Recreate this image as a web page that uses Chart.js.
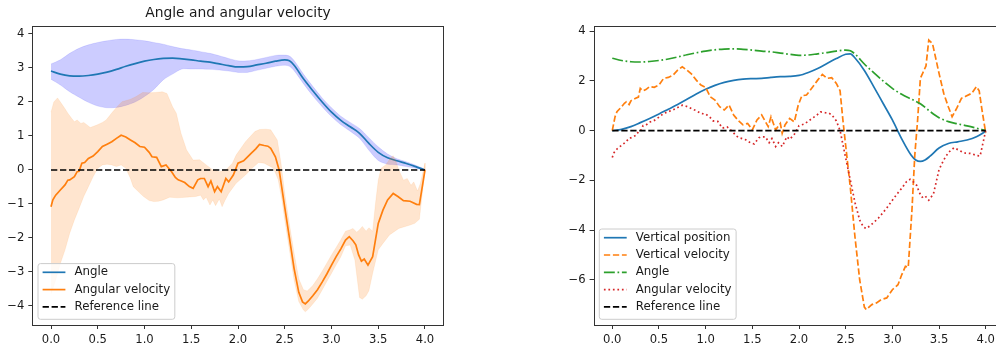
<!DOCTYPE html>
<html>
<head>
<meta charset="utf-8">
<script src="https://cdn.jsdelivr.net/npm/chart.js@4.4.1/dist/chart.umd.min.js"></script>
<style>
  html, body { margin: 0; padding: 0; background: #fff; overflow: hidden; width: 996px; height: 347px; }
  canvas { position: absolute; top: 0; }
  #left { left: 0; }
  #right { left: 540px; }
</style>
</head>
<body>
<canvas id="left" width="460" height="347"></canvas>
<canvas id="right" width="470" height="347"></canvas>
<script>
// ---- time axis and tick labels ----
const X_TICKS = [0, 0.5, 1, 1.5, 2, 2.5, 3, 3.5, 4];
const Y_TICKS_LEFT = [-4, -3, -2, -1, 0, 1, 2, 3, 4];
const Y_TICKS_RIGHT = [-6, -4, -2, 0, 2, 4];

// ---- angle (mean and spread) ----
const T_ANGLE = [0, 0.1, 0.2, 0.3, 0.4, 0.5, 0.6, 0.7, 0.8, 0.9, 1.0, 1.1, 1.2, 1.3, 1.4, 1.5, 1.6, 1.7, 1.8, 1.9,
  2.0, 2.1, 2.2, 2.3, 2.4, 2.5, 2.55, 2.6, 2.7, 2.8, 2.9, 3.0, 3.1, 3.2, 3.3, 3.4, 3.5, 3.6, 3.7, 3.8, 3.9, 4.0];
const ANGLE = [2.91, 2.82, 2.77, 2.76, 2.78, 2.82, 2.88, 2.96, 3.05, 3.13, 3.20, 3.25, 3.28, 3.29, 3.27, 3.24, 3.20, 3.17, 3.12, 3.07,
  3.03, 3.04, 3.09, 3.14, 3.20, 3.24, 3.21, 3.08, 2.68, 2.33, 2.00, 1.70, 1.46, 1.27, 1.08, 0.78, 0.52, 0.36, 0.27, 0.19, 0.10, 0.0];
const ANGLE_HI = [3.12, 3.24, 3.43, 3.58, 3.68, 3.75, 3.80, 3.84, 3.85, 3.83, 3.80, 3.75, 3.70, 3.63, 3.57, 3.53, 3.48, 3.43, 3.36, 3.28,
  3.21, 3.21, 3.25, 3.31, 3.37, 3.38, 3.35, 3.22, 2.82, 2.46, 2.12, 1.83, 1.58, 1.40, 1.22, 0.95, 0.68, 0.47, 0.33, 0.24, 0.14, 0.02];
const ANGLE_LO = [2.67, 2.50, 2.30, 2.14, 1.99, 1.88, 1.83, 1.84, 1.90, 2.00, 2.16, 2.37, 2.65, 2.82, 2.97, 2.97, 2.97, 2.96, 2.94, 2.91,
  2.87, 2.87, 2.93, 2.99, 3.05, 3.08, 3.05, 2.92, 2.54, 2.18, 1.86, 1.57, 1.33, 1.14, 0.93, 0.58, 0.28, 0.17, 0.15, 0.10, 0.05, 0.0];

// ---- angular velocity (mean) ----
const T_ANGVEL = [0.00, 0.02, 0.05, 0.10, 0.15, 0.18, 0.20, 0.25, 0.28, 0.30, 0.33, 0.36, 0.40, 0.45, 0.50, 0.55, 0.60, 0.65, 0.70, 0.75,
  0.80, 0.85, 0.90, 0.95, 1.00, 1.05, 1.08, 1.13, 1.18, 1.23, 1.29, 1.33, 1.36, 1.40, 1.43, 1.48, 1.52, 1.57, 1.60, 1.64,
  1.68, 1.71, 1.75, 1.78, 1.82, 1.87, 1.90, 1.95, 2.00, 2.06, 2.10, 2.14, 2.19, 2.23, 2.28, 2.32, 2.35, 2.40, 2.44, 2.50,
  2.55, 2.60, 2.65, 2.69, 2.72, 2.75, 2.80, 2.85, 2.90, 2.95, 3.00, 3.05, 3.10, 3.15, 3.19, 3.23, 3.26, 3.29, 3.32, 3.35,
  3.39, 3.44, 3.50, 3.55, 3.60, 3.66, 3.71, 3.77, 3.84, 3.91, 3.94, 4.00];
const ANGVEL = [-1.08, -0.88, -0.74, -0.59, -0.44, -0.30, -0.29, -0.20, -0.05, -0.04, 0.20, 0.22, 0.34, 0.41, 0.54, 0.69, 0.76, 0.83, 0.93, 1.02,
  0.97, 0.88, 0.80, 0.69, 0.67, 0.52, 0.39, 0.37, 0.10, 0.15, -0.05, -0.22, -0.29, -0.33, -0.37, -0.49, -0.54, -0.29, -0.25, -0.25,
  -0.49, -0.32, -0.64, -0.49, -0.64, -0.25, -0.35, -0.15, 0.20, 0.27, 0.38, 0.49, 0.62, 0.75, 0.72, 0.70, 0.64, 0.39, 0.00, -1.10,
  -2.00, -2.90, -3.60, -3.88, -3.94, -3.86, -3.70, -3.52, -3.30, -3.06, -2.80, -2.55, -2.32, -2.06, -1.96, -2.08, -2.20, -2.50, -2.68, -2.62,
  -2.80, -2.55, -1.57, -1.18, -0.88, -0.69, -0.78, -0.90, -0.92, -1.01, -1.02, 0.00];

// ---- angular velocity spread: upper edge ----
const T_ANGVEL_HI = [0.00, 0.03, 0.07, 0.11, 0.15, 0.18, 0.22, 0.25, 0.28, 0.32, 0.35, 0.42, 0.49, 0.55, 0.59, 0.66, 0.72, 0.76, 0.85, 0.91,
  0.98, 1.05, 1.12, 1.19, 1.24, 1.30, 1.34, 1.39, 1.45, 1.52, 1.59, 1.66, 1.73, 1.80, 1.87, 1.94, 1.98, 2.08, 2.18, 2.23,
  2.30, 2.35, 2.42, 2.46, 2.50, 2.55, 2.60, 2.65, 2.70, 2.74, 2.80, 2.85, 2.90, 2.95, 3.00, 3.05, 3.10, 3.15, 3.20, 3.23,
  3.27, 3.30, 3.33, 3.37, 3.40, 3.44, 3.47, 3.50, 3.53, 3.58, 3.63, 3.66, 3.69, 3.72, 3.77, 3.81, 3.85, 3.88, 3.92, 3.95, 4.00];
const ANGVEL_HI = [1.70, 2.00, 2.12, 1.96, 1.80, 1.67, 1.52, 1.42, 1.47, 1.37, 1.40, 1.25, 1.32, 1.40, 1.47, 1.71, 1.90, 2.01, 2.08, 2.16,
  2.28, 2.27, 2.28, 2.30, 2.25, 1.86, 1.67, 1.08, 0.59, 0.29, 0.30, 0.15, 0.00, -0.05, 0.00, 0.20, 0.44, 0.83, 1.13, 1.19,
  1.20, 1.18, 0.88, 0.20, -0.70, -1.60, -2.45, -3.20, -3.52, -3.56, -3.40, -3.20, -2.98, -2.74, -2.50, -2.28, -2.05, -1.80, -1.76, -1.72,
  -1.83, -1.76, -1.66, -1.80, -1.70, -1.80, -1.00, -0.30, 0.05, 0.15, 0.35, 0.42, 0.25, 0.00, -0.30, -0.25, -0.45, -0.35, -0.62, -0.40, 0.20];

// ---- angular velocity spread: lower edge ----
const T_ANGVEL_LO = [0.00, 0.05, 0.10, 0.15, 0.20, 0.25, 0.30, 0.35, 0.40, 0.45, 0.50, 0.55, 0.60, 0.65, 0.70, 0.75, 0.80, 0.85, 0.88, 0.95,
  0.99, 1.05, 1.10, 1.15, 1.20, 1.27, 1.35, 1.45, 1.55, 1.60, 1.63, 1.66, 1.70, 1.73, 1.76, 1.80, 1.83, 1.86, 1.90, 1.98,
  2.08, 2.15, 2.22, 2.28, 2.38, 2.43, 2.47, 2.50, 2.55, 2.60, 2.65, 2.70, 2.72, 2.75, 2.80, 2.85, 2.90, 2.95, 3.00, 3.05,
  3.10, 3.15, 3.20, 3.25, 3.30, 3.33, 3.37, 3.40, 3.44, 3.50, 3.55, 3.62, 3.72, 3.84, 3.89, 3.94, 4.00];
const ANGVEL_LO = [-3.65, -3.24, -2.75, -2.35, -1.86, -1.47, -1.13, -0.78, -0.49, -0.20, 0.05, 0.15, 0.17, 0.15, 0.10, 0.15, 0.05, -0.25, -0.49, -0.68,
  -0.78, -0.90, -0.93, -0.92, -0.88, -0.80, -0.82, -0.80, -0.78, -0.74, -0.88, -0.80, -1.03, -0.88, -1.05, -0.85, -1.08, -0.90, -0.69, -0.39,
  -0.15, 0.05, 0.22, 0.20, 0.05, -0.29, -0.88, -1.47, -2.35, -3.24, -3.87, -4.12, -4.17, -4.10, -3.94, -3.77, -3.53, -3.28, -3.04, -2.79,
  -2.55, -2.23, -2.21, -2.65, -3.75, -3.80, -3.70, -3.55, -3.04, -2.35, -2.16, -1.91, -1.72, -1.62, -1.57, -1.45, 0.00];

// ---- vertical position ----
const T_VPOS = [0, 0.1, 0.2, 0.3, 0.4, 0.5, 0.6, 0.7, 0.8, 0.9, 1.0, 1.1, 1.2, 1.3, 1.4, 1.5, 1.6, 1.7, 1.8, 1.9,
  2.0, 2.1, 2.2, 2.3, 2.4, 2.5, 2.55, 2.6, 2.7, 2.8, 2.9, 3.0, 3.1, 3.2, 3.25, 3.3, 3.35, 3.4, 3.5, 3.6, 3.7, 3.8, 3.9, 4.0];
const VPOS = [0, 0.05, 0.16, 0.32, 0.49, 0.67, 0.86, 1.05, 1.26, 1.47, 1.66, 1.82, 1.94, 2.02, 2.07, 2.09, 2.10, 2.14, 2.17, 2.18,
  2.22, 2.34, 2.50, 2.70, 2.90, 3.07, 3.09, 2.92, 2.42, 1.77, 1.10, 0.43, -0.33, -0.98, -1.18, -1.24, -1.18, -1.04, -0.70, -0.52, -0.45, -0.38, -0.25, -0.03];

// ---- vertical velocity ----
const T_VVEL = [0.00, 0.03, 0.05, 0.08, 0.10, 0.13, 0.15, 0.18, 0.20, 0.25, 0.28, 0.30, 0.33, 0.36, 0.40, 0.45, 0.50, 0.55, 0.60, 0.65,
  0.70, 0.75, 0.80, 0.85, 0.90, 0.95, 1.00, 1.05, 1.10, 1.15, 1.20, 1.25, 1.30, 1.35, 1.40, 1.45, 1.50, 1.55, 1.60, 1.63,
  1.67, 1.70, 1.75, 1.80, 1.82, 1.85, 1.90, 1.95, 1.99, 2.03, 2.08, 2.15, 2.20, 2.25, 2.30, 2.35, 2.40, 2.44, 2.47, 2.50,
  2.55, 2.60, 2.65, 2.70, 2.72, 2.78, 2.83, 2.88, 2.94, 3.00, 3.06, 3.10, 3.14, 3.17, 3.21, 3.24, 3.27, 3.30, 3.33, 3.36,
  3.39, 3.43, 3.50, 3.55, 3.60, 3.64, 3.69, 3.74, 3.78, 3.85, 3.90, 3.93, 3.96, 4.00];
const VVEL = [0.00, 0.56, 0.76, 0.88, 0.96, 1.10, 1.16, 1.05, 1.20, 1.30, 1.35, 1.70, 1.60, 1.65, 1.77, 1.74, 1.83, 2.10, 2.14, 2.23,
  2.43, 2.57, 2.43, 2.27, 2.03, 1.83, 1.74, 1.36, 1.23, 0.96, 0.83, 1.03, 0.63, 0.40, 0.23, 0.29, 0.03, 0.43, 0.63, 0.43,
  0.16, 0.56, 0.03, 0.29, -0.11, 0.23, 0.49, 0.35, 1.00, 1.40, 1.43, 1.77, 2.03, 2.26, 2.10, 2.13, 1.90, 1.60, 0.43, -0.60,
  -2.30, -4.30, -6.00, -7.10, -7.20, -7.00, -6.93, -6.80, -6.73, -6.40, -6.20, -5.80, -5.46, -5.50, -3.18, -1.00, 0.40, 2.10, 2.35, 2.60,
  3.64, 3.50, 2.30, 1.50, 0.95, 0.56, 0.90, 1.30, 1.37, 1.50, 1.77, 1.60, 0.83, -0.10];

// ---- zero reference ----
const T_REF = [0, 4];
const REF = [0, 0];

// ---- helpers ----
const FONT = '"DejaVu Sans", "Liberation Sans", sans-serif';
const FS = 11.6;       // tick labels
const FS_LEGEND = 11.8;
const BLUE = '#1f77b4', ORANGE = '#ff7f0e', GREEN = '#2ca02c', RED = '#d62728';
const LW = 1.7;
const DASHED = [6.3, 2.7], DASHDOT = [10.9, 2.7, 1.7, 2.7], DOTTED = [1.7, 2.8];

const pts = (ts, vs) => ts.map((t, i) => ({ x: t, y: vs[i] }));
const band = (tHi, hi, tLo, lo) => pts(tHi, hi).concat(pts(tLo, lo).reverse());
const minus = v => (v < 0 ? '\u2212' + Math.abs(v) : String(v));

// full box around the plotting area
const frame = {
  id: 'frame',
  afterDatasetsDraw(chart) {
    const { ctx, chartArea: a } = chart;
    ctx.save();
    ctx.strokeStyle = '#333';
    ctx.lineWidth = 1;
    ctx.setLineDash([]);
    ctx.strokeRect(Math.round(a.left) + 0.5, Math.round(a.top) + 0.5,
      Math.round(a.right - a.left), Math.round(a.bottom - a.top));
    ctx.restore();
  }
};

// legend box anchored to the lower-left corner of the plot
const cornerLegend = {
  id: 'cornerLegend',
  afterDraw(chart) {
    const items = chart.data.datasets.filter(d => d.label);
    const { ctx, chartArea: a } = chart;
    ctx.save();
    ctx.font = FS_LEGEND + 'px ' + FONT;
    const textW = Math.max(...items.map(d => ctx.measureText(d.label).width));
    const pad = 4.6, handle = 22.8, gap = 9.1, step = 17.3;
    const w = pad + handle + gap + textW + pad;
    const h = step * items.length + 3.8;
    const x = a.left + 5.7, y = a.bottom - 5.7 - h, r = 2.5;
    ctx.beginPath();
    ctx.moveTo(x + r, y);
    ctx.arcTo(x + w, y, x + w, y + h, r);
    ctx.arcTo(x + w, y + h, x, y + h, r);
    ctx.arcTo(x, y + h, x, y, r);
    ctx.arcTo(x, y, x + w, y, r);
    ctx.closePath();
    ctx.fillStyle = 'rgba(255,255,255,0.8)';
    ctx.fill();
    ctx.strokeStyle = '#cccccc';
    ctx.lineWidth = 1;
    ctx.stroke();
    items.forEach((d, i) => {
      const cy = y + 8.7 + i * step;
      ctx.beginPath();
      ctx.setLineDash(d.borderDash || []);
      ctx.strokeStyle = d.borderColor;
      ctx.lineWidth = d.borderWidth;
      ctx.moveTo(x + pad, cy);
      ctx.lineTo(x + pad + handle, cy);
      ctx.stroke();
      ctx.setLineDash([]);
      ctx.fillStyle = '#1a1a1a';
      ctx.textBaseline = 'middle';
      ctx.textAlign = 'left';
      ctx.fillText(d.label, x + pad + handle + gap, cy);
    });
    ctx.restore();
  }
};

function scalesFor(yMin, yMax, yTicks, yAxisWidth) {
  const tickStyle = {
    color: '#1a1a1a',
    font: { family: FONT, size: FS },
    autoSkip: false,
    maxRotation: 0,
    padding: 4
  };
  const grid = { drawOnChartArea: false, drawTicks: true, tickLength: 4, tickColor: '#333', tickWidth: 1 };
  return {
    x: {
      type: 'linear', min: -0.2, max: 4.2,
      grid, border: { display: false },
      ticks: { ...tickStyle, callback: v => Number(v).toFixed(1) },
      afterBuildTicks: s => { s.ticks = X_TICKS.map(value => ({ value })); },
      afterFit: s => { s.height = 22; }
    },
    y: {
      type: 'linear', min: yMin, max: yMax,
      grid, border: { display: false },
      ticks: { ...tickStyle, callback: v => minus(v) },
      afterBuildTicks: s => { s.ticks = yTicks.map(value => ({ value })); },
      afterFit: s => { s.width = yAxisWidth; }
    }
  };
}

const common = {
  responsive: false,
  animation: false,
  devicePixelRatio: 1,
  events: [],
  elements: { point: { radius: 0 } }
};

// ---- left: angle and angular velocity with spread ----
new Chart(document.getElementById('left'), {
  type: 'line',
  data: {
    datasets: [
      { label: 'Angle', data: pts(T_ANGLE, ANGLE), borderColor: BLUE, borderWidth: LW, cubicInterpolationMode: 'monotone', fill: false, order: 3 },
      { label: 'Angular velocity', data: pts(T_ANGVEL, ANGVEL), borderColor: ORANGE, borderWidth: LW, tension: 0, fill: false, order: 1 },
      { label: 'Reference line', data: pts(T_REF, REF), borderColor: '#000', borderWidth: LW, borderDash: DASHED, fill: false, order: 0 },
      { data: band(T_ANGLE, ANGLE_HI, T_ANGLE, ANGLE_LO), borderColor: 'rgba(0,0,255,0.12)', borderWidth: 0.8,
        backgroundColor: 'rgba(0,0,255,0.2)', fill: 'shape', tension: 0.3, order: 4 },
      { data: band(T_ANGVEL_HI, ANGVEL_HI, T_ANGVEL_LO, ANGVEL_LO), borderColor: 'rgba(255,127,14,0.12)', borderWidth: 0.8,
        backgroundColor: 'rgba(255,127,14,0.2)', fill: 'shape', tension: 0, order: 2 }
    ]
  },
  options: {
    ...common,
    layout: { padding: { left: 0, right: 16.3, top: 0, bottom: 0 } },
    scales: scalesFor(-4.56, 4.244, Y_TICKS_LEFT, 32.3),
    plugins: {
      legend: { display: false },
      tooltip: { enabled: false },
      title: {
        display: true,
        text: 'Angle and angular velocity',
        fullSize: false,
        color: '#1a1a1a',
        font: { family: FONT, size: 13.85, weight: 'normal', lineHeight: 1.2 },
        padding: { top: 5.4, bottom: 3.68 }
      }
    }
  },
  plugins: [frame, cornerLegend]
});

// ---- right: all state variables of one run ----
new Chart(document.getElementById('right'), {
  type: 'line',
  data: {
    datasets: [
      { label: 'Vertical position', data: pts(T_VPOS, VPOS), borderColor: BLUE, borderWidth: LW, cubicInterpolationMode: 'monotone', fill: false, order: 4 },
      { label: 'Vertical velocity', data: pts(T_VVEL, VVEL), borderColor: ORANGE, borderWidth: LW, borderDash: DASHED, tension: 0, fill: false, order: 3 },
      { label: 'Angle', data: pts(T_ANGLE, ANGLE), borderColor: GREEN, borderWidth: LW, borderDash: DASHDOT, cubicInterpolationMode: 'monotone', fill: false, order: 2 },
      { label: 'Angular velocity', data: pts(T_ANGVEL, ANGVEL), borderColor: RED, borderWidth: LW, borderDash: DOTTED, tension: 0, fill: false, order: 1 },
      { label: 'Reference line', data: pts(T_REF, REF), borderColor: '#000', borderWidth: LW, borderDash: DASHED, fill: false, order: 0 }
    ]
  },
  options: {
    ...common,
    layout: { padding: { left: 0, right: 5.6, top: 25.7, bottom: 0 } },
    scales: scalesFor(-7.82, 4.22, Y_TICKS_RIGHT, 53.6),
    plugins: {
      legend: { display: false },
      tooltip: { enabled: false },
      title: { display: false }
    }
  },
  plugins: [frame, cornerLegend]
});
</script>
</body>
</html>
